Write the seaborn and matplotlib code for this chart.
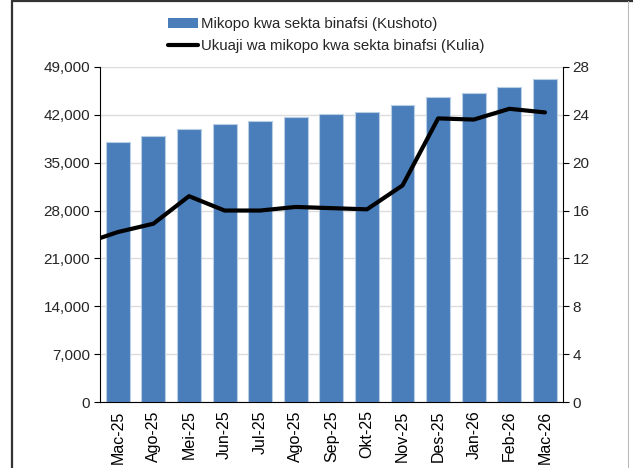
import matplotlib
matplotlib.use("Agg")
import matplotlib.pyplot as plt
from matplotlib.lines import Line2D
import seaborn as sns
import pandas as pd
import numpy as np

months = ["Mac-25", "Ago-25", "Mei-25", "Jun-25", "Jul-25", "Ago-25", "Sep-25",
          "Okt-25", "Nov-25", "Des-25", "Jan-26", "Feb-26", "Mac-26"]
credit = [38070, 38860, 39890, 40660, 41100, 41640, 42120, 42420, 43440,
          44660, 45200, 46120, 47250]
growth = [14.2, 14.9, 17.2, 16.0, 16.0, 16.3, 16.2, 16.1, 18.1, 23.7, 23.6, 24.5, 24.2]
growth_prev = 13.2  # previous month, clipped at the left edge

bar_label = "Mikopo kwa sekta binafsi (Kushoto)"
line_label = "Ukuaji wa mikopo kwa sekta binafsi (Kulia)"
left_ticks = [0, 7000, 14000, 21000, 28000, 35000, 42000, 49000]
right_ticks = [0, 4, 8, 12, 16, 20, 24, 28]

sns.set_theme(style="white")
plt.rcParams["font.family"] = ["Liberation Sans", "DejaVu Sans"]

fig = plt.figure(figsize=(6.33, 4.68), dpi=100)
ax = fig.add_axes([0.158, 0.141, 0.731, 0.716])

df = pd.DataFrame({"pos": np.arange(len(months)), "credit": credit})
sns.barplot(data=df, x="pos", y="credit", ax=ax, color="#4A7EBB",
            width=0.67, edgecolor="#B9CDE5", linewidth=0.8, saturation=1,
            native_scale=True, zorder=2)
ax.set_ylim(0, 49000)
ax.set_xlim(-0.5, len(months) - 0.5)
ax.set_yticks(left_ticks)
ax.set_yticklabels([f"{v:,}" for v in left_ticks])
ax.yaxis.grid(True, color="#DCDCDC", linewidth=1.0, zorder=0)
ax.set_axisbelow(True)
ax.set_xlabel("")
ax.set_ylabel("")
ax.set_xticks(np.arange(len(months)))
ax.set_xticklabels(months, rotation=90)
ax.set_xticks(np.arange(len(months) + 1) - 0.5, minor=True)
ax.tick_params(axis="x", which="major", length=0, pad=6, labelsize=11.5, colors="black")
ax.tick_params(axis="x", which="minor", length=4, width=0.8, color="black", direction="out")
ax.tick_params(axis="y", length=4, width=0.8, color="black", direction="out",
               labelsize=11, pad=3, left=True)
for s in ["top", "right"]:
    ax.spines[s].set_visible(False)
for s in ["left", "bottom"]:
    ax.spines[s].set_color("black")
    ax.spines[s].set_linewidth(0.8)

ax2 = ax.twinx()
ldf = pd.DataFrame({"pos": np.arange(-1, len(months)), "growth": [growth_prev] + growth})
sns.lineplot(data=ldf, x="pos", y="growth", ax=ax2, color="black", linewidth=3,
             zorder=3)
ax2.set_xlim(-0.5, len(months) - 0.5)
ax2.set_ylim(0, 28)
ax2.set_yticks(right_ticks)
ax2.set_ylabel("")
ax2.set_xlabel("")
ax2.tick_params(axis="y", length=4, width=0.8, color="black", direction="out",
                labelsize=11, pad=3, right=True)
for s in ["top", "left", "bottom"]:
    ax2.spines[s].set_visible(False)
ax2.spines["right"].set_color("black")
ax2.spines["right"].set_linewidth(0.8)

handles = [plt.Rectangle((0, 0), 1, 1, facecolor="#4A7EBB", edgecolor="none"),
           Line2D([0], [0], color="black", linewidth=3)]
fig.legend(handles, [bar_label, line_label], loc="center",
           bbox_to_anchor=(0.515, 0.925), frameon=False, fontsize=10.8,
           handlelength=2.0, handletextpad=0.2, labelspacing=0.5)

# outer frame
fig.add_artist(Line2D([0.019, 0.019], [0, 0.997], transform=fig.transFigure,
                      color="#333333", linewidth=1.6))
fig.add_artist(Line2D([0.019, 1.0], [0.997, 0.997], transform=fig.transFigure,
                      color="#333333", linewidth=1.6))
fig.add_artist(Line2D([0.992, 0.992], [0, 0.997], transform=fig.transFigure,
                      color="#BBBBBB", linewidth=0.8))

fig.savefig("out.png", dpi=100)
